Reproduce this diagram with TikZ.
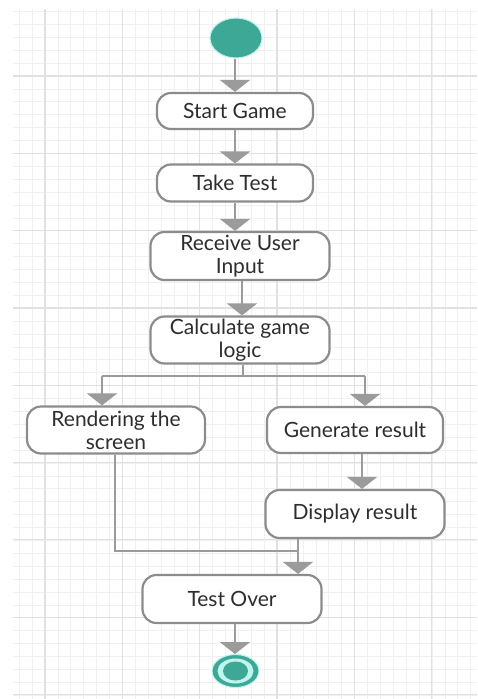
\documentclass[tikz,border=0pt]{standalone}
\usepackage{fontspec}
\setmainfont{Lato}
\usetikzlibrary{arrows.meta,shapes.geometric}
\definecolor{teal1}{RGB}{62,168,150}
\definecolor{glow}{RGB}{190,245,238}
\definecolor{edge}{RGB}{140,140,140}
\definecolor{flow}{RGB}{155,155,155}
\definecolor{txt}{RGB}{45,45,45}
\definecolor{gminor}{RGB}{240,240,240}
\definecolor{gmajor}{RGB}{225,225,225}
\tikzset{
  act/.style={draw=edge, line width=2.2pt, fill=white, rounded corners=14pt,
    minimum width=#1, inner sep=1pt, align=center, text=txt,
    font=\fontsize{21pt}{23pt}\selectfont},
  flowline/.style={draw=flow, line width=2.5pt},
  flowarrow/.style={flowline, -{Triangle[width=30pt,length=12pt]}},
  blob/.style={ellipse, inner sep=0pt},
}
\begin{document}
\begin{tikzpicture}[x=1pt,y=-1pt]
\useasboundingbox (0,0) rectangle (477,699);
\fill[white] (0,0) rectangle (477,699);
% grid
\begin{scope}
\clip (13,9) rectangle (477,699);
\foreach \i in {-3,...,36} {
  \draw[gminor, line width=0.8pt] ({45+12.9*\i},9) -- ({45+12.9*\i},699);
}
\foreach \i in {-6,...,50} {
  \draw[gminor, line width=0.8pt] (13,{76+12.9*\i}) -- (477,{76+12.9*\i});
}
\foreach \i in {0,...,6} {
  \draw[gmajor, line width=1.2pt] ({45+77.3*\i},9) -- ({45+77.3*\i},699);
}
\foreach \i in {-1,...,8} {
  \draw[gmajor, line width=1.2pt] (13,{76+77.3*\i}) -- (477,{76+77.3*\i});
}
\end{scope}

% nodes
\node[blob, fill=teal1, draw=glow, line width=1pt, minimum width=52pt, minimum height=40pt] (start) at (236,38) {};
\node[act=156pt, minimum height=36pt] (sg) at (235,111) {Start Game};
\node[act=156pt, minimum height=37pt] (tt) at (235,183) {Take Test};
\node[act=179pt, minimum height=48pt] (rui) at (240,256) {Receive User\\Input};
\node[act=179pt, minimum height=47pt] (cgl) at (240,340) {Calculate game\\logic};
\node[act=178pt, minimum height=47pt] (rts) at (116,430) {Rendering the\\screen};
\node[act=176pt, minimum height=46pt] (gr) at (355,430) {Generate result};
\node[act=179pt, minimum height=48pt] (dr) at (355,514) {Display result};
\node[act=179pt, minimum height=48pt] (to) at (232,599) {Test Over};
\node[blob, fill=teal1, draw=glow, line width=1pt, minimum width=47pt, minimum height=33pt] (end) at (235.5,671) {};
\node[blob, fill=glow, minimum width=36pt, minimum height=25pt] (endring) at (end) {};
\node[blob, fill=teal1, minimum width=25pt, minimum height=19pt] (enddot) at (end) {};

% connectors
\coordinate (fork) at (243,376);
\coordinate (fl) at (102,376);
\coordinate (fr) at (365,376);
\coordinate (join) at (298,551);

\draw[flowarrow] (start.south -| sg.north) -- (sg.north);
\draw[flowarrow] (sg.south) -- (tt.north);
\draw[flowarrow] (tt.south) -- (tt.south |- rui.north);
\draw[flowarrow] ([xshift=2pt]rui.south) -- ([xshift=2pt]cgl.north);
\draw[flowline] (cgl.south -| fork) -- (fork);
\draw[flowline] (fl) -- (fr);
\draw[flowarrow] (fl) -- (fl |- rts.north);
\draw[flowarrow] (fr) -- (fr |- gr.north);
\draw[flowarrow] ([xshift=7pt]gr.south) -- ([xshift=7pt]dr.north);
\draw[flowline] ([xshift=-1pt]rts.south) |- (join);
\draw[flowline] (join |- dr.south) -- (join);
\draw[flowarrow] (join) -- (join |- to.north);
\draw[flowarrow] ([xshift=3pt]to.south) -- ([xshift=3pt]to.south |- end.north);
\end{tikzpicture}
\end{document}
